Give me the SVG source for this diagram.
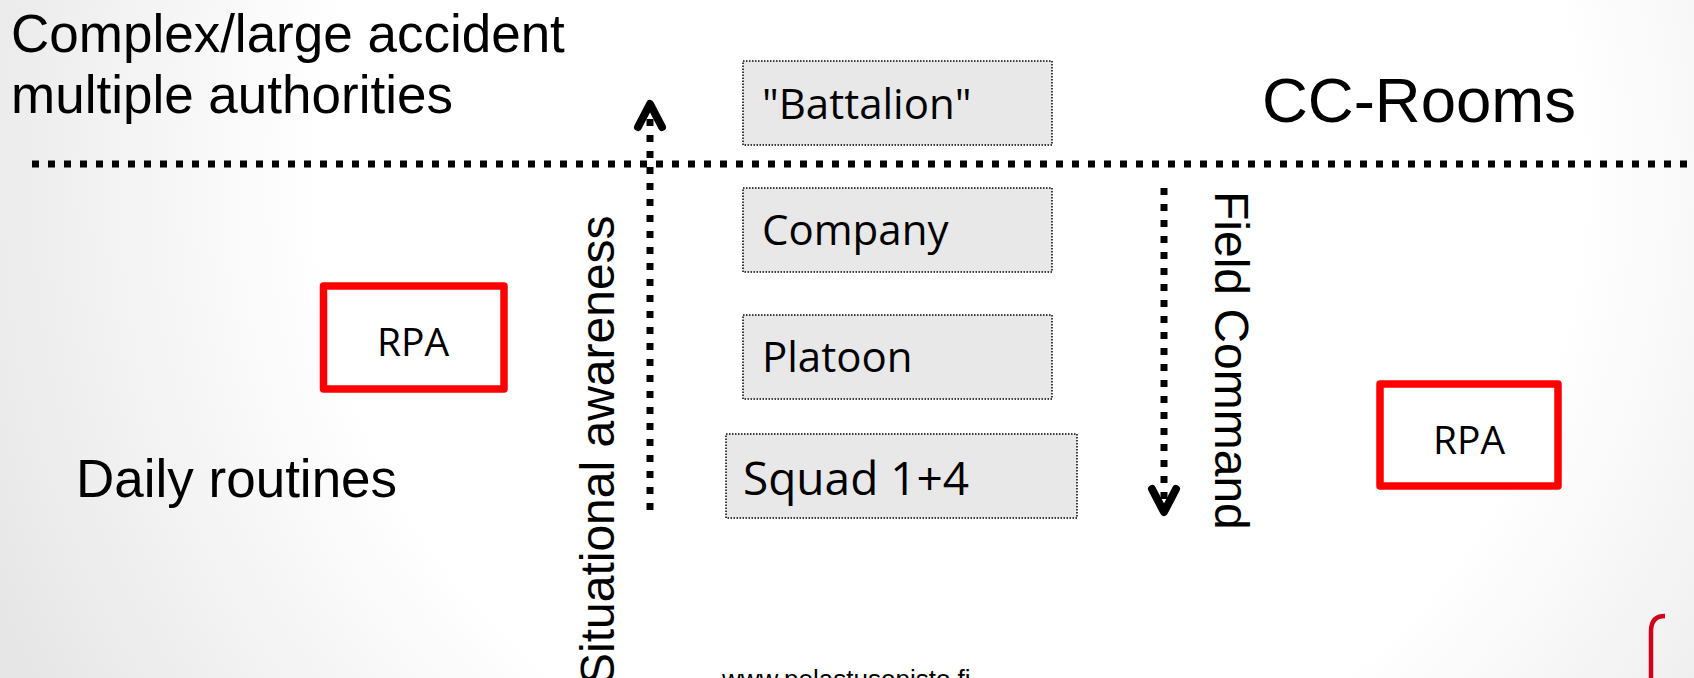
<svg xmlns="http://www.w3.org/2000/svg" width="1694" height="678" viewBox="0 0 1694 678">
  <defs>
    <radialGradient id="bg" cx="950" cy="180" r="1050" gradientUnits="userSpaceOnUse">
      <stop offset="0.6" stop-color="#ffffff"/>
      <stop offset="1" stop-color="#e6e6e6"/>
    </radialGradient>
    <style>
      .title { font-family: "Liberation Sans", Arial, sans-serif; fill: #000; }
      .box { fill: #e8e8e8; stroke: #000; stroke-width: 1.5; stroke-dasharray: 1.5 1.5; }
      .boxtxt { font-family: "Open Sans", "Noto Sans", sans-serif; font-size: 42px; fill: #000; }
      .boxtxt.big { font-size: 46px; }
      .rpa { fill: #ffffff; stroke: #ff0000; stroke-width: 7.5; stroke-linejoin: round; }
      .rpatxt { font-family: "Open Sans", "Noto Sans", sans-serif; font-size: 39px; fill: #000; text-anchor: middle; }
      .dots { stroke: #000; stroke-width: 7; stroke-dasharray: 7 9; fill: none; }
      .head { stroke: #000; stroke-width: 8; fill: none; stroke-linecap: round; stroke-linejoin: round; }
    </style>
  </defs>
  <rect x="0" y="0" width="1694" height="678" fill="url(#bg)"/>

  <g id="labels">
    <text class="title" x="11" y="52" font-size="53">Complex/large accident</text>
    <text class="title" x="11" y="113" font-size="53">multiple authorities</text>
    <text class="title" x="1262" y="122" font-size="63.5">CC-Rooms</text>
    <text class="title" x="76" y="497" font-size="53">Daily routines</text>
    <text class="title" x="722" y="688" font-size="26" fill="#222">www.pelastusopisto.fi</text>
  </g>

  <g id="connectors">
    <line class="dots" x1="32" y1="164" x2="1694" y2="164"/>
    <line class="dots" x1="650" y1="510" x2="650" y2="106"/>
    <polyline class="head" points="638,127 650,104 662,127"/>
    <line class="dots" x1="1164" y1="188" x2="1164" y2="510"/>
    <polyline class="head" points="1152,489 1164,512 1176,489"/>
    <text class="title" font-size="48" transform="translate(614,685) rotate(-90)">Situational awareness</text>
    <text class="title" font-size="48" transform="translate(1215,191) rotate(90)">Field Command</text>
  </g>

  <g id="node-battalion">
    <rect class="box" x="743" y="61" width="309" height="84"/>
    <text class="boxtxt" x="762" y="119">"Battalion"</text>
  </g>
  <g id="node-company">
    <rect class="box" x="743" y="188" width="309" height="84"/>
    <text class="boxtxt" x="762" y="245">Company</text>
  </g>
  <g id="node-platoon">
    <rect class="box" x="743" y="315" width="309" height="84"/>
    <text class="boxtxt" x="762" y="372">Platoon</text>
  </g>
  <g id="node-squad">
    <rect class="box" x="726" y="434" width="351" height="84"/>
    <text class="boxtxt big" x="743" y="495">Squad 1+4</text>
  </g>

  <g id="node-rpa-left">
    <rect class="rpa" x="323.5" y="286" width="180.5" height="103"/>
    <text class="rpatxt" x="413" y="356">RPA</text>
  </g>
  <g id="node-rpa-right">
    <rect class="rpa" x="1380" y="384" width="178" height="102"/>
    <text class="rpatxt" x="1469" y="454">RPA</text>
  </g>

  <g id="corner-mark">
    <path d="M1665,616 Q1651,616 1651,631 L1651,678" fill="none" stroke="#d0021b" stroke-width="4.5"/>
  </g>
</svg>
